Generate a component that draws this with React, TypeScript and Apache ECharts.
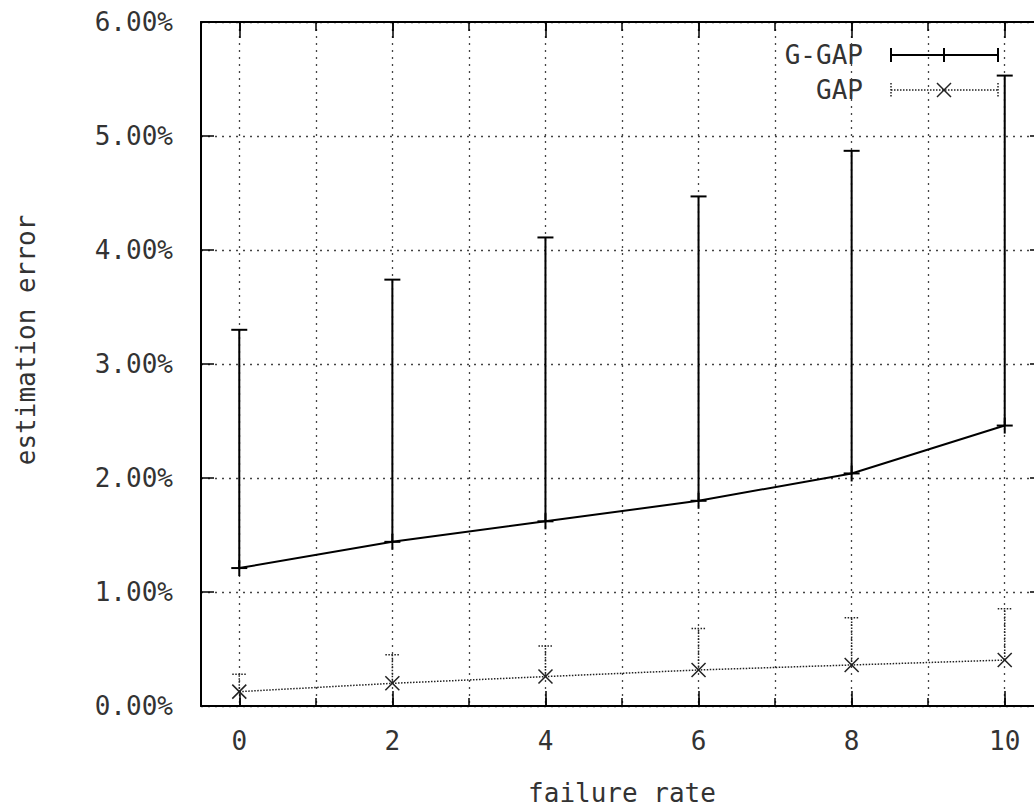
import React, { useEffect, useRef } from 'react';
import * as echarts from 'echarts';

// ---- data (percent units) ----
const failureRates = [0, 2, 4, 6, 8, 10];
const gGapMean = [1.21, 1.44, 1.62, 1.8, 2.04, 2.46];
const gGapUpper = [3.3, 3.74, 4.11, 4.47, 4.87, 5.53];
const gapMean = [0.126, 0.199, 0.258, 0.316, 0.36, 0.403];
const gapUpper = [0.278, 0.45, 0.526, 0.68, 0.775, 0.854];

// ---- ticks ----
const xAllTicks = [0, 1, 2, 3, 4, 5, 6, 7, 8, 9, 10];
const xMajorTicks = [0, 2, 4, 6, 8, 10];
const seriesNames = ['G-GAP', 'GAP'];
const xName = 'failure rate';
const yName = 'estimation error';

const FONT = 'DejaVu Sans Mono';
const TEXT = '#333';
const GRID_LINE = { color: '#444', width: 1.3, type: [2, 5] as number[] };

export default function App() {
  const ref = useRef<HTMLDivElement>(null);

  useEffect(() => {
    if (!ref.current) return;
    const chart = echarts.init(ref.current, undefined, { renderer: 'svg' });

    const baseX = {
      type: 'value',
      min: -0.5,
      max: 10.5,
      axisLine: { show: false, onZero: false },
      axisLabel: { show: false },
      splitLine: { show: false },
    };

    const xAxes = [
      {
        ...baseX,
        position: 'bottom',
        axisLine: { show: true, onZero: false, lineStyle: { color: '#000', width: 2 } },
        axisTick: { show: true, inside: true, length: 8, customValues: xAllTicks, lineStyle: { color: '#000', width: 1.5 } },
        axisLabel: {
          show: true,
          customValues: xMajorTicks,
          margin: 22,
          fontFamily: FONT,
          fontSize: 26,
          color: TEXT,
          formatter: (v: number) => String(v),
        },
        splitLine: { show: true, lineStyle: GRID_LINE },
        name: xName,
        nameLocation: 'middle',
        nameGap: 74,
        nameTextStyle: { fontFamily: FONT, fontSize: 26, color: TEXT },
      },
      {
        ...baseX,
        position: 'bottom',
        axisTick: { show: true, inside: true, length: 15, customValues: xMajorTicks, lineStyle: { color: '#000', width: 1.5 } },
      },
      {
        ...baseX,
        position: 'top',
        axisLine: { show: true, onZero: false, lineStyle: { color: '#000', width: 2 } },
        axisTick: { show: true, inside: true, length: 9, customValues: xAllTicks, lineStyle: { color: '#000', width: 1.5 } },
      },
      {
        ...baseX,
        position: 'top',
        axisTick: { show: true, inside: true, length: 16, customValues: xMajorTicks, lineStyle: { color: '#000', width: 1.5 } },
      },
    ];

    const yAxes = [
      {
        type: 'value',
        position: 'left',
        min: 0,
        max: 6,
        interval: 1,
        axisLine: { show: true, onZero: false, lineStyle: { color: '#000', width: 2 } },
        axisTick: { show: true, inside: true, length: 13, lineStyle: { color: '#000', width: 1.5 } },
        axisLabel: {
          margin: 28,
          fontFamily: FONT,
          fontSize: 26,
          color: TEXT,
          formatter: (v: number) => v.toFixed(2) + '%',
        },
        splitLine: { show: true, lineStyle: GRID_LINE },
      },
      {
        type: 'value',
        position: 'right',
        min: 0,
        max: 6,
        interval: 1,
        axisLine: { show: true, onZero: false, lineStyle: { color: '#000', width: 2 } },
        axisTick: { show: true, inside: true, length: 13, lineStyle: { color: '#000', width: 1.5 } },
        axisLabel: { show: false },
        splitLine: { show: false },
      },
    ];

    const gGapData = failureRates.map((x, i) => [x, gGapMean[i], gGapUpper[i]]);
    const gapData = failureRates.map((x, i) => [x, gapMean[i], gapUpper[i]]);

    const gGapStyle = { stroke: '#000', lineWidth: 2 };
    const gapStyle = { stroke: '#222', lineWidth: 1.5, lineDash: [1.5, 1.5] };
    const gapMarkStyle = { stroke: '#222', lineWidth: 1.5 };

    const line = (x1: number, y1: number, x2: number, y2: number, style: any) => ({
      type: 'line',
      shape: { x1, y1, x2, y2 },
      style,
    });

    // legend positions
    const lgTextX = 863;
    const lgX1 = 891;
    const lgX2 = 998;
    const lgMid = 944;
    const lgY1 = 55;
    const lgY2 = 90;

    chart.setOption({
      animation: false,
      backgroundColor: '#fff',
      grid: { left: 201, top: 22, right: 7, bottom: 104, containLabel: false },
      xAxis: xAxes,
      yAxis: yAxes,
      series: [
        {
          name: seriesNames[0],
          type: 'line',
          data: failureRates.map((x, i) => [x, gGapMean[i]]),
          symbol: 'none',
          lineStyle: { color: '#000', width: 2 },
          z: 5,
        },
        {
          name: seriesNames[0] + ' error',
          type: 'custom',
          data: gGapData,
          encode: { x: 0, y: [1, 2] },
          clip: false,
          z: 6,
          renderItem: (params: any, api: any) => {
            const x = api.value(0);
            const pm = api.coord([x, api.value(1)]);
            const pu = api.coord([x, api.value(2)]);
            return {
              type: 'group',
              children: [
                line(pm[0], pm[1], pu[0], pu[1], gGapStyle),
                line(pu[0] - 8, pu[1], pu[0] + 8, pu[1], gGapStyle),
                line(pm[0] - 8, pm[1], pm[0] + 8, pm[1], gGapStyle),
                line(pm[0], pm[1] - 8, pm[0], pm[1] + 8, gGapStyle),
              ],
            };
          },
        },
        {
          name: seriesNames[1],
          type: 'line',
          data: failureRates.map((x, i) => [x, gapMean[i]]),
          symbol: 'none',
          lineStyle: { color: '#222', width: 1.5, type: [1.5, 1.5] },
          z: 5,
        },
        {
          name: seriesNames[1] + ' error',
          type: 'custom',
          data: gapData,
          encode: { x: 0, y: [1, 2] },
          clip: false,
          z: 6,
          renderItem: (params: any, api: any) => {
            const x = api.value(0);
            const pm = api.coord([x, api.value(1)]);
            const pu = api.coord([x, api.value(2)]);
            return {
              type: 'group',
              children: [
                line(pm[0], pm[1], pu[0], pu[1], gapStyle),
                line(pu[0] - 7, pu[1], pu[0] + 7, pu[1], gapStyle),
                line(pm[0] - 7, pm[1] - 7, pm[0] + 7, pm[1] + 7, gapMarkStyle),
                line(pm[0] - 7, pm[1] + 7, pm[0] + 7, pm[1] - 7, gapMarkStyle),
              ],
            };
          },
        },
      ],
      graphic: [
        {
          type: 'text',
          x: 26,
          y: 340,
          rotation: Math.PI / 2,
          style: { text: yName, fontFamily: FONT, fontSize: 26, fill: TEXT, textAlign: 'center', textVerticalAlign: 'middle' },
        },
        {
          type: 'text',
          x: lgTextX,
          y: lgY1,
          style: { text: seriesNames[0], fontFamily: FONT, fontSize: 26, fill: TEXT, textAlign: 'right', textVerticalAlign: 'middle' },
        },
        {
          type: 'text',
          x: lgTextX,
          y: lgY2,
          style: { text: seriesNames[1], fontFamily: FONT, fontSize: 26, fill: TEXT, textAlign: 'right', textVerticalAlign: 'middle' },
        },
        { type: 'line', shape: { x1: lgX1, y1: lgY1, x2: lgX2, y2: lgY1 }, style: gGapStyle },
        { type: 'line', shape: { x1: lgX1, y1: lgY1 - 7, x2: lgX1, y2: lgY1 + 7 }, style: gGapStyle },
        { type: 'line', shape: { x1: lgX2, y1: lgY1 - 7, x2: lgX2, y2: lgY1 + 7 }, style: gGapStyle },
        { type: 'line', shape: { x1: lgMid, y1: lgY1 - 7, x2: lgMid, y2: lgY1 + 7 }, style: gGapStyle },
        { type: 'line', shape: { x1: lgX1, y1: lgY2, x2: lgX2, y2: lgY2 }, style: gapStyle },
        { type: 'line', shape: { x1: lgX1, y1: lgY2 - 7, x2: lgX1, y2: lgY2 + 7 }, style: gapStyle },
        { type: 'line', shape: { x1: lgX2, y1: lgY2 - 7, x2: lgX2, y2: lgY2 + 7 }, style: gapStyle },
        { type: 'line', shape: { x1: lgMid - 7, y1: lgY2 - 7, x2: lgMid + 7, y2: lgY2 + 7 }, style: gapMarkStyle },
        { type: 'line', shape: { x1: lgMid - 7, y1: lgY2 + 7, x2: lgMid + 7, y2: lgY2 - 7 }, style: gapMarkStyle },
      ],
    });

    return () => chart.dispose();
  }, []);

  return (
    <div style={{ position: 'fixed', left: 0, top: 0, width: 1034, height: 811, overflow: 'hidden', background: '#fff' }}>
      <div ref={ref} style={{ width: 1050, height: 811 }} />
    </div>
  );
}
